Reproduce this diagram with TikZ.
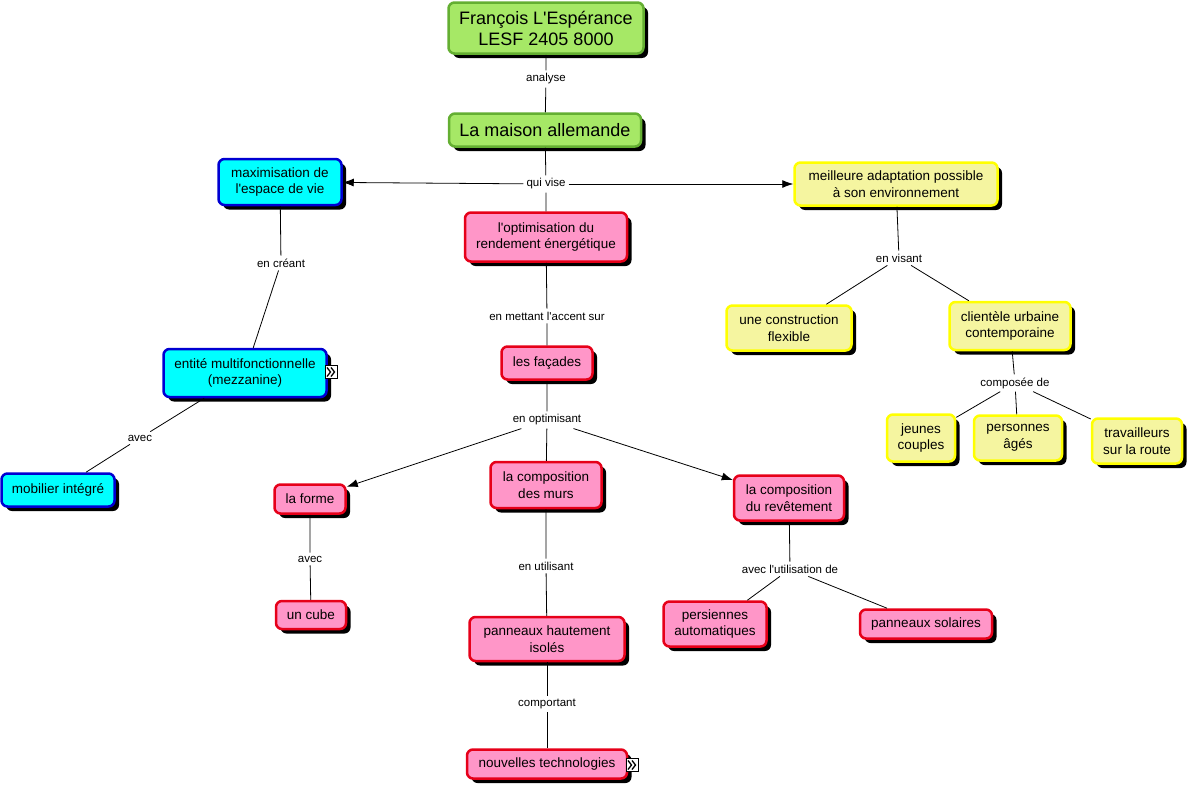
\documentclass[tikz,border=0pt]{standalone}
\usepackage{fontspec}
\setmainfont{Liberation Sans}[Ligatures=TeXOff]
\usetikzlibrary{shadows,arrows.meta}
\definecolor{gfill}{RGB}{166,232,102}
\definecolor{gdraw}{RGB}{100,175,50}
\definecolor{cfill}{RGB}{0,255,255}
\definecolor{cdraw}{RGB}{0,0,210}
\definecolor{pfill}{RGB}{255,150,200}
\definecolor{pdraw}{RGB}{230,0,25}
\definecolor{yfill}{RGB}{245,245,160}
\definecolor{ydraw}{RGB}{255,255,0}
\tikzset{
  concept/.style={draw, line width=2.5pt, rounded corners=6pt, align=center,
    font=\fontsize{13.5}{16.5}\selectfont, inner sep=2pt,
    drop shadow={shadow xshift=4.5pt, shadow yshift=-4.5pt, fill=black, opacity=1}},
  sz/.style 2 args={minimum width=#1, minimum height=#2},
  gbox/.style={concept, draw=gdraw, fill=gfill, font=\fontsize{18}{21}\selectfont},
  cbox/.style={concept, draw=cdraw, fill=cfill},
  pbox/.style={concept, draw=pdraw, fill=pfill},
  ybox/.style={concept, draw=ydraw, fill=yfill},
  lbl/.style={font=\fontsize{11.5}{13}\selectfont, inner sep=3pt},
  link/.style={line width=0.8pt},
  arr/.style={link, -{Latex[length=11pt,width=8pt]}},
  icon/.style={draw, fill=white, line width=0.8pt, inner sep=0pt, minimum width=12pt, minimum height=13pt},
  chev/.style={line width=1.3pt}
}
\begin{document}
\begin{tikzpicture}[x=1pt,y=-1pt]
\useasboundingbox (0,0) rectangle (1189,787);
% nodes
\node[gbox, sz={195pt}{51pt}] (F) at (546,28) {François L'Espérance\\LESF 2405 8000};
\node[gbox, sz={192pt}{33pt}] (LM) at (545,130) {La maison allemande};
\node[cbox, sz={123pt}{46pt}] (Max) at (280,182) {maximisation de\\l'espace de vie};
\node[ybox, sz={203pt}{43pt}] (Meil) at (896,184) {meilleure adaptation possible\\à son environnement};
\node[pbox, sz={162pt}{49pt}] (Opt) at (546,237) {l'optimisation du\\rendement énergétique};
\node[cbox, sz={163pt}{48pt}] (Ent) at (245,373) {entité multifonctionnelle\\(mezzanine)};
\node[cbox, sz={113pt}{33pt}] (Mob) at (58,490) {mobilier intégré};
\node[pbox, sz={91pt}{33pt}] (Fac) at (547,363) {les façades};
\node[pbox, sz={71pt}{29pt}] (Forme) at (310,499) {la forme};
\node[pbox, sz={111pt}{46pt}] (Murs) at (546,485) {la composition\\des murs};
\node[pbox, sz={110pt}{45pt}] (Revet) at (789,498) {la composition\\du revêtement};
\node[pbox, sz={70pt}{28pt}] (Cube) at (311,615) {un cube};
\node[pbox, sz={155pt}{44pt}] (PHI) at (547,639) {panneaux hautement\\isolés};
\node[pbox, sz={160pt}{29pt}] (NT) at (547,764) {nouvelles technologies};
\node[pbox, sz={103pt}{45pt}] (Pers) at (715,624) {persiennes\\automatiques};
\node[pbox, sz={132pt}{29pt}] (PS) at (926,624) {panneaux solaires};
\node[ybox, sz={125pt}{45pt}] (Constr) at (789,328) {une construction\\flexible};
\node[ybox, sz={121pt}{48pt}] (Client) at (1010,326) {clientèle urbaine\\contemporaine};
\node[ybox, sz={68pt}{47pt}] (Jeunes) at (921,438) {jeunes\\couples};
\node[ybox, sz={88pt}{45pt}] (Ages) at (1018,438) {personnes\\âgés};
\node[ybox, sz={90pt}{45pt}] (Trav) at (1137,441) {travailleurs\\sur la route};
% icons
\node[icon] (iconA) at (331,372) {};
\node[icon] (iconB) at (632,765) {};
\foreach \ic in {iconA,iconB}{
  \draw[chev] ([xshift=-4pt,yshift=-4.5pt]\ic.center) -- ([xshift=-0.5pt]\ic.center) -- ([xshift=-4pt,yshift=4.5pt]\ic.center);
  \draw[chev] ([xshift=0pt,yshift=-4.5pt]\ic.center) -- ([xshift=3.5pt]\ic.center) -- ([xshift=0pt,yshift=4.5pt]\ic.center);
}
% labels
\node[lbl] (l1) at (546,79) {analyse};
\node[lbl] (l2) at (546,184) {qui vise};
\node[lbl] (l3) at (281,263) {en créant};
\node[lbl] (l4) at (140,438) {avec};
\node[lbl] (l5) at (547,316) {en mettant l'accent sur};
\node[lbl] (l6) at (547,420) {en optimisant};
\node[lbl] (l7) at (310,559) {avec};
\node[lbl] (l8) at (546,566) {en utilisant};
\node[lbl] (l9) at (547,704) {comportant};
\node[lbl] (l10) at (790,569) {avec l'utilisation de};
\node[lbl] (l11) at (899,258) {en visant};
\node[lbl] (l12) at (1015,383) {composée de};
% links
\draw[link] (F) -- (l1) -- (LM);
\draw[link] (LM) -- (l2) -- (Opt);
\draw[arr] (l2) -- (Max);
\draw[arr] (l2) -- (Meil);
\draw[link] (Max) -- (l3) -- (Ent);
\draw[link] (Ent) -- (l4) -- (Mob);
\draw[link] (Opt) -- (l5) -- (Fac);
\draw[link] (Fac) -- (l6) -- (Murs);
\draw[arr] (l6) -- (Forme);
\draw[arr] (l6) -- (Revet);
\draw[link] (Forme) -- (l7) -- (Cube);
\draw[link] (Murs) -- (l8) -- (PHI);
\draw[link] (PHI) -- (l9) -- (NT);
\draw[link] (Revet) -- (l10);
\draw[link] (l10) -- (Pers);
\draw[link] (l10) -- (PS);
\draw[link] (Meil) -- (l11);
\draw[link] (l11) -- (Constr);
\draw[link] (l11) -- (Client);
\draw[link] (Client) -- (l12);
\draw[link] (l12) -- (Jeunes);
\draw[link] (l12) -- (Ages);
\draw[link] (l12) -- (Trav);
\end{tikzpicture}
\end{document}
